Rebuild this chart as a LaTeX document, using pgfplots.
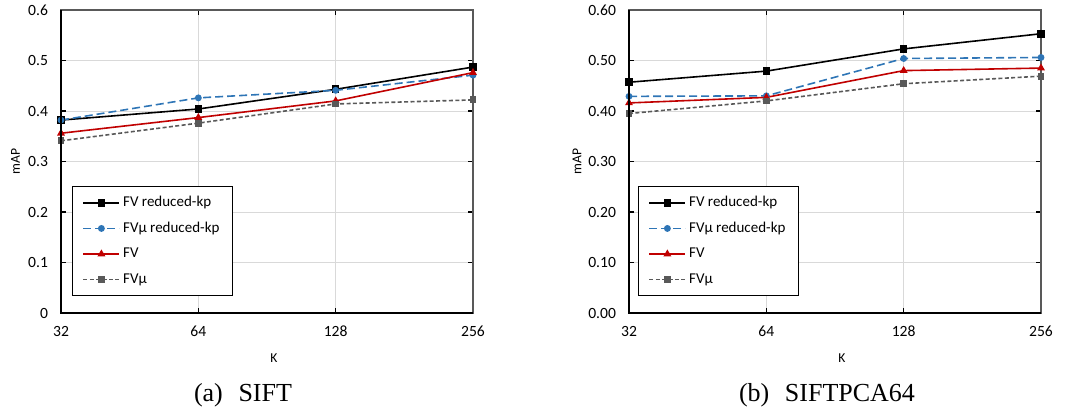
\documentclass[border=0pt]{standalone}
\usepackage{pgfplots}
\pgfplotsset{compat=1.18}
\usepackage{fontspec}
\setmainfont{Liberation Serif}
\newfontfamily\calfont{Carlito}
\definecolor{cblue}{RGB}{46,117,182}
\definecolor{cred}{RGB}{192,0,0}
\definecolor{cgray}{RGB}{89,89,89}
\definecolor{cgrid}{RGB}{217,217,217}
\pgfplotsset{
 mystyle/.style={
  scale only axis, width=206pt, height=151.5pt,
  xmin=0, xmax=3, ymin=0, ymax=0.6,
  xtick={0,1,2,3}, xticklabels={32,64,128,256},
  ytick={0,0.1,0.2,0.3,0.4,0.5,0.6},
  grid=major, grid style={line width=0.5pt, draw=cgrid},
  axis line style={line width=0.9pt, black!65},
  tick style={black, line width=0.6pt}, tick align=inside, major tick length=2.5pt,
  ticklabel style={font=\calfont\fontsize{7.8}{9}\selectfont},
  /pgf/number format/assume math mode=true,
  xticklabel style={yshift=-3pt},
  yticklabel style={xshift=-3pt},
  xlabel={K}, ylabel={mAP},
  label style={font=\calfont\fontsize{6.8}{8}\selectfont},
  xlabel style={at={(axis description cs:0.517,-0.150)}, anchor=center},
  legend cell align=left,
  legend image code/.code={\draw[mark repeat=2,mark phase=2] plot coordinates {(0pt,0pt)(9pt,0pt)(18pt,0pt)};},
  legend style={anchor=north west, draw=black, line width=0.6pt,
    font=\calfont\fontsize{7.5}{9}\selectfont, row sep=2.6pt, inner xsep=5pt, inner ysep=3pt,
    nodes={inner sep=1.5pt, text height=5.4pt, text depth=1.8pt}},
  after end axis/.code={\draw[black, line width=1pt] (rel axis cs:0,1)--(rel axis cs:0,0)--(rel axis cs:1,0);},
 },
 s1/.style={black, line width=0.8pt, mark=square*, mark size=1.5pt, mark options={solid}},
 s2/.style={cblue, line width=0.8pt, dash pattern=on 4pt off 2pt, mark=*, mark size=1.3pt, mark options={solid}},
 s3/.style={cred, line width=0.8pt, mark=triangle*, mark size=1.5pt, mark options={solid}},
 s4/.style={cgray, line width=0.8pt, dash pattern=on 2pt off 1.2pt, mark=square*, mark size=1.3pt, mark options={solid}},
}
\begin{document}
\begin{tikzpicture}
\useasboundingbox (0,0) rectangle (535pt,206.5pt);
\begin{axis}[mystyle, at={(30.5pt,50pt)}, anchor=south west,
  ylabel style={at={(axis description cs:-0.1104,0.5)}, anchor=center},
  legend style={at={(0.0267,0.419)}}]
\addplot[s1] coordinates {(0,0.382) (1,0.404) (2,0.443) (3,0.487)};
\addlegendentry{FV reduced-kp}
\addplot[s2] coordinates {(0,0.382) (1,0.426) (2,0.441) (3,0.471)};
\addlegendentry{FVµ reduced-kp}
\addplot[s3] coordinates {(0,0.356) (1,0.387) (2,0.420) (3,0.476)};
\addlegendentry{FV}
\addplot[s4] coordinates {(0,0.341) (1,0.376) (2,0.414) (3,0.422)};
\addlegendentry{FVµ}
\end{axis}
\begin{axis}[mystyle, at={(314.5pt,50pt)}, anchor=south west,
  yticklabel style={/pgf/number format/.cd, fixed, fixed zerofill, precision=2},
  ylabel style={at={(axis description cs:-0.1262,0.5)}, anchor=center},
  legend style={at={(0.0218,0.419)}}]
\addplot[s1] coordinates {(0,0.457) (1,0.479) (2,0.523) (3,0.553)};
\addlegendentry{FV reduced-kp}
\addplot[s2] coordinates {(0,0.429) (1,0.430) (2,0.504) (3,0.506)};
\addlegendentry{FVµ reduced-kp}
\addplot[s3] coordinates {(0,0.416) (1,0.427) (2,0.480) (3,0.485)};
\addlegendentry{FV}
\addplot[s4] coordinates {(0,0.395) (1,0.420) (2,0.454) (3,0.469)};
\addlegendentry{FVµ}
\end{axis}
\node[anchor=base, font=\fontsize{13}{15}\selectfont] at (121.5pt,6pt) {(a)\hspace{0.6em}SIFT};
\node[anchor=base, font=\fontsize{13}{15}\selectfont] at (413.5pt,6pt) {(b)\hspace{0.6em}SIFTPCA64};
\end{tikzpicture}
\end{document}
